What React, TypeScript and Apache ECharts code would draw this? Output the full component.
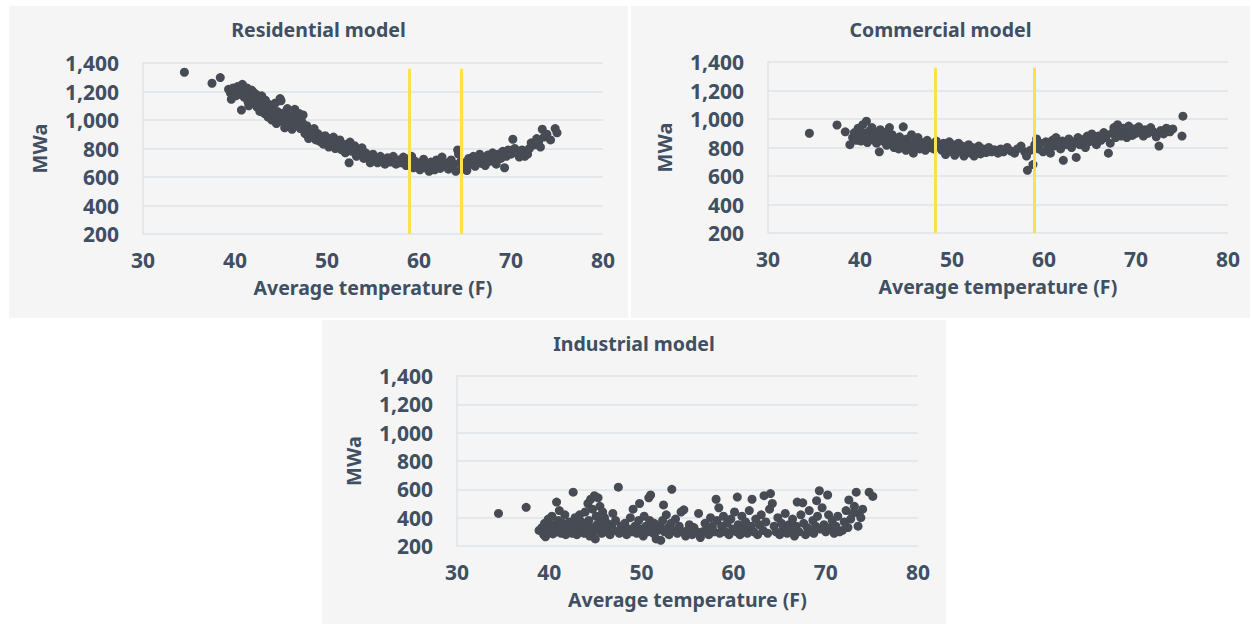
import React, { useEffect, useRef } from "react";
import * as echarts from "echarts";

const xTicks = [30, 40, 50, 60, 70, 80];
const yTicks = [200, 400, 600, 800, 1000, 1200, 1400];
const titles = ["Residential model", "Commercial model", "Industrial model"];
const xName = "Average temperature (F)";
const yName = "MWa";

const residentialMarkers = [58.9, 64.6];
const commercialMarkers = [48.2, 58.9];
const markerTop = 1360;

const residential: number[][] = [
  [34.5,1335],[37.5,1258],[38.4,1298],
  [39.3,1215],[39.5,1190],[39.6,1145],[39.8,1225],[40.0,1200],[40.1,1170],[40.3,1235],[40.4,1205],[40.6,1180],[40.7,1070],[40.8,1250],[40.9,1215],[41.0,1160],[41.1,1195],[41.3,1225],[41.4,1130],[41.5,1100],[41.6,1175],
  [41.8,1210],[41.9,1150],[42.0,1195],[42.1,1120],[42.3,1180],[42.4,1090],[42.5,1155],[42.7,1060],[42.8,1130],[42.9,1170],[43.0,1105],[43.2,1045],[43.3,1140],[43.4,1080],[43.6,1020],[43.7,1110],[43.8,1060],[44.0,1000],[44.1,1085],[44.2,1040],[44.4,1120],[44.5,975],[44.6,1060],[44.8,1020],[44.9,1150],[45.0,1135],[45.1,990],[45.3,1050],[45.4,945],[45.5,1010],[45.7,1080],[45.8,965],[46.0,1030],[46.1,990],[46.2,935],[46.4,1000],[46.5,1075],[46.6,960],[46.8,1025],[47.0,1045],[47.1,940],[47.3,985],[47.4,1035],[47.6,905],[47.8,960],[48.0,870],
  [48.2,925],[48.4,890],[48.6,940],[48.8,860],[49.0,905],[49.2,850],[49.4,880],[49.6,830],[49.8,890],[50.0,855],[50.2,810],[50.3,870],[50.5,835],[50.7,880],[50.9,800],[51.0,845],[51.2,820],[51.4,860],[51.6,790],[51.8,830],[52.0,770],[52.2,810],[52.4,700],[52.5,845],[52.7,780],
  [53.0,820],[53.2,745],[53.4,790],[53.6,760],[53.8,805],[54.0,730],[54.2,770],[54.5,745],[54.7,700],[55.0,760],[55.2,720],[55.5,700],[55.8,745],[56.0,715],[56.3,690],[56.6,735],[56.9,705],[57.2,745],[57.5,690],[57.8,720],
  [58.0,700],[58.3,740],[58.6,680],[58.8,715],[59.0,690],[59.2,745],[59.4,665],[59.6,710],[59.9,680],[60.1,650],[60.3,700],[60.5,725],[60.7,665],[60.9,690],[61.1,640],[61.3,705],[61.5,675],[61.7,650],[61.9,720],[62.1,690],[62.3,660],[62.5,740],[62.7,680],[62.9,700],
  [63.2,655],[63.5,720],[63.8,690],[64.0,640],[64.2,790],[64.3,760],[64.5,705],[64.7,665],[65.0,700],[65.2,645],[65.4,730],[65.6,690],[65.9,745],[66.1,675],[66.3,710],
  [66.6,760],[66.8,695],[67.0,730],[67.2,680],[67.5,755],[67.7,710],[68.0,770],[68.2,735],[68.4,690],[68.6,760],[68.9,730],[69.1,780],[69.3,665],[69.5,745],[69.7,790],[70.0,760],[70.2,865],[70.4,800],[70.6,770],[70.9,740],
  [71.2,790],[71.5,745],[71.8,760],[72.0,800],[72.2,840],[72.5,825],[72.8,870],[73.0,845],[73.2,810],[73.4,935],[73.6,880],[73.9,900],[74.3,860],[74.8,940],[75.0,910]
];

const commercial: number[][] = [
  [34.5,900],[37.5,958],[38.4,910],[38.9,820],
  [39.2,870],[39.4,905],[39.6,850],[39.8,935],[40.0,880],[40.1,845],[40.3,960],[40.4,900],[40.6,870],[40.7,985],[40.8,835],[41.0,915],[41.1,880],[41.3,940],[41.4,855],[41.6,900],[41.8,830],[41.9,870],[42.1,770],[42.2,925],[42.4,880],[42.5,845],[42.7,905],[42.9,815],[43.0,870],[43.2,940],[43.3,835],[43.5,890],[43.7,800],[43.8,860],[44.0,830],[44.2,790],[44.3,875],[44.5,845],[44.7,945],[44.8,810],[45.0,780],[45.1,860],[45.3,830],[45.5,800],[45.6,890],[45.8,760],[46.0,840],[46.1,810],[46.3,870],[46.5,790],[46.7,835],[46.9,815],[47.1,780],[47.3,850],[47.5,800],[47.8,825],[48.0,790],[48.3,845],
  [48.6,810],[48.9,780],[49.1,830],[49.3,750],[49.5,805],[49.7,840],[49.9,775],[50.1,820],[50.3,745],[50.5,795],[50.7,830],[50.9,770],[51.1,810],[51.3,740],[51.5,790],[51.8,820],[52.0,760],[52.2,800],[52.4,740],[52.7,780],[52.9,810],[53.1,755],[53.4,790],[53.7,765],[54.0,800],[54.3,770],[54.6,785],[55.0,760],[55.3,790],[55.6,770],[56.0,800],[56.4,775],[56.8,760],[57.1,790],[57.5,810],[57.9,770],[58.1,740],[58.2,640],[58.5,780],[58.8,680],
  [59.0,820],[59.2,860],[59.4,790],[59.6,830],[59.9,770],[60.2,840],[60.4,800],[60.7,760],[60.9,850],[61.1,810],[61.3,870],[61.5,830],[61.8,790],[62.0,845],[62.1,710],[62.4,820],[62.7,860],[63.0,800],[63.2,840],[63.5,730],[63.7,870],[63.9,820],[64.2,855],[64.5,800],[64.7,880],[64.9,840],[65.2,895],[65.4,860],[65.7,820],[65.9,880],[66.2,850],[66.5,905],[66.7,870],
  [67.0,760],[67.2,830],[67.4,900],[67.6,940],[67.8,870],[68.0,960],[68.2,915],[68.4,880],[68.6,935],[68.8,900],[69.0,870],[69.2,950],[69.4,910],[69.6,885],[69.8,930],[70.0,900],[70.3,945],[70.5,915],[70.8,880],[71.0,925],[71.3,900],[71.6,940],[71.9,910],[72.2,875],[72.5,810],[72.7,920],[73.0,895],[73.3,935],[73.7,910],[74.0,930],[75.0,880],[75.1,1020]
];

const industrial: number[][] = [
  [34.5,430],[37.5,473],
  [38.9,310],[39.2,330],[39.4,280],[39.5,360],[39.6,265],[39.8,300],[39.9,390],[40.0,340],[40.2,310],[40.3,410],[40.4,285],[40.5,350],[40.6,320],[40.8,510],[40.9,300],[41.0,380],[41.1,450],[41.2,330],[41.3,290],[41.5,360],[41.6,310],[41.7,420],[41.8,280],[41.9,340],[42.0,300],
  [42.2,370],[42.3,320],[42.5,290],[42.6,580],[42.7,350],[42.8,400],[42.9,310],[43.0,280],[43.1,340],[43.3,420],[43.4,300],[43.5,370],[43.6,330],[43.8,290],[43.9,440],[44.0,350],[44.1,310],[44.2,500],[44.3,380],[44.4,270],[44.5,530],[44.6,330],[44.7,460],[44.8,300],[44.9,555],[45.0,250],[45.1,410],[45.2,350],[45.3,540],[45.4,310],[45.5,480],[45.6,370],[45.7,290],[45.8,440],[45.9,330],[46.0,400],[46.2,300],[46.3,360],[46.5,320],[46.6,280],[46.8,350],[46.9,430],[47.0,310],[47.2,380],[47.5,615],[47.6,290],[47.8,340],[48.0,300],
  [48.2,360],[48.4,280],[48.6,320],[48.8,400],[49.0,300],[49.1,460],[49.3,340],[49.5,290],[49.7,380],[49.8,500],[50.0,320],[50.2,270],[50.3,410],[50.5,340],[50.7,300],[50.8,540],[50.9,380],[51.0,560],[51.1,330],[51.3,290],[51.4,360],[51.6,250],[51.8,310],[52.0,340],[52.1,240],[52.3,380],[52.4,490],[52.5,300],[52.7,420],[52.9,330],[53.0,280],[53.2,360],[53.3,600],[53.5,310],[53.7,390],[53.9,290],[54.1,340],[54.3,440],[54.5,300],
  [54.6,455],[54.8,270],[55.0,310],[55.2,350],[55.5,280],[55.7,330],[56.0,300],[56.2,430],[56.4,260],[56.6,300],[56.9,360],[57.1,320],[57.3,280],[57.5,400],[57.7,340],[57.9,300],[58.1,530],[58.2,380],[58.4,470],[58.5,290],[58.7,340],[58.9,410],[59.1,300],[59.3,360],[59.5,280],[59.7,390],[59.9,320],
  [60.1,440],[60.3,300],[60.4,545],[60.5,350],[60.7,280],[60.9,410],[61.1,330],[61.3,370],[61.5,290],[61.7,450],[61.9,340],[62.0,530],[62.2,300],[62.4,390],[62.6,280],[62.8,350],[63.0,420],[63.2,310],[63.3,555],[63.5,370],[63.7,290],[63.9,460],[64.0,570],[64.2,500],[64.4,340],[64.6,300],[64.8,400],[65.0,280],[65.2,360],[65.4,320],[65.6,430],[65.8,290],[66.0,350],
  [66.2,300],[66.4,390],[66.6,270],[66.8,340],[66.9,510],[67.1,300],[67.3,420],[67.5,505],[67.6,360],[67.8,280],[68.0,330],[68.2,450],[68.4,300],[68.6,380],[68.7,290],[68.9,340],[69.0,520],[69.1,410],[69.3,590],[69.4,320],[69.6,470],[69.8,350],[70.0,300],[70.2,560],[70.3,420],[70.5,330],[70.7,380],[70.9,290],
  [71.1,340],[71.3,410],[71.5,300],[71.8,310],[72.0,370],[72.2,450],[72.4,330],[72.5,525],[72.7,390],[72.9,430],[73.1,480],[73.3,580],[73.5,340],[73.6,430],[73.8,400],[74.0,460],[74.7,580],[75.1,550]
];

const TEXT = "#404f62";
const DOT = "#474b53";
const GRID = "#dde3ea";
const YELLOW = "#ffe04a";
const PANEL = "#f5f5f5";
const FONT = "'Noto Sans', Lato, sans-serif";

export default function App() {
  const ref = useRef<HTMLDivElement>(null);
  useEffect(() => {
    document.body.style.margin = "0";
    const chart = echarts.init(ref.current!, null, { renderer: "svg" });
    const grids = [
      { left: 143, top: 63, width: 460, height: 171 },
      { left: 768, top: 62, width: 460, height: 171 },
      { left: 457, top: 376, width: 461, height: 170 },
    ];
    const panels = [
      { x: 9, y: 6, w: 619, h: 312 },
      { x: 631, y: 6, w: 619, h: 312 },
      { x: 322, y: 320, w: 624, h: 304 },
    ];
    const titleY = [29, 29, 343];
    const datasets = [residential, commercial, industrial];
    const markers = [residentialMarkers, commercialMarkers, []];
    const xMin = xTicks[0], xMax = xTicks[xTicks.length - 1];
    const yMin = yTicks[0], yMax = yTicks[yTicks.length - 1];

    const option: any = {
      animation: false,
      backgroundColor: "#ffffff",
      graphic: [
        ...panels.map((p) => ({
          type: "rect",
          z: -10,
          silent: true,
          shape: { x: p.x, y: p.y, width: p.w, height: p.h },
          style: { fill: PANEL },
        })),
        ...panels.map((p, i) => ({
          type: "text",
          x: p.x + p.w / 2,
          y: titleY[i],
          style: {
            text: titles[i],
            fill: TEXT,
            font: `bold 19.5px ${FONT}`,
            align: "center",
            verticalAlign: "middle",
          },
        })),
      ],
      grid: grids.map((g) => ({ ...g, containLabel: false })),
      xAxis: grids.map((_, i) => ({
        type: "value",
        gridIndex: i,
        min: xMin,
        max: xMax,
        interval: 10,
        name: xName,
        nameLocation: "middle",
        nameGap: 43,
        nameTextStyle: { color: TEXT, fontFamily: FONT, fontWeight: "bold", fontSize: 19.5 },
        axisLine: { show: false },
        axisTick: { show: false },
        splitLine: { show: false },
        axisLabel: { color: TEXT, fontFamily: FONT, fontWeight: "bold", fontSize: 21, margin: 15 },
      })),
      yAxis: grids.map((_, i) => ({
        type: "value",
        gridIndex: i,
        min: yMin,
        max: yMax,
        interval: 200,
        name: yName,
        nameLocation: "middle",
        nameGap: 94,
        nameRotate: 90,
        nameTextStyle: { color: TEXT, fontFamily: FONT, fontWeight: "bold", fontSize: 20 },
        axisLine: { show: true, lineStyle: { color: GRID, width: 1.5 } },
        axisTick: { show: false },
        splitLine: { show: true, lineStyle: { color: GRID, width: 1.5 } },
        axisLabel: {
          color: TEXT,
          fontFamily: FONT,
          fontWeight: "bold",
          fontSize: 21,
          margin: 24,
          formatter: (v: number) => v.toLocaleString("en-US"),
        },
      })),
      series: datasets.map((d, i) => ({
        type: "scatter",
        xAxisIndex: i,
        yAxisIndex: i,
        data: d,
        symbol: "circle",
        symbolSize: 9,
        itemStyle: { color: DOT, opacity: 1 },
        silent: true,
        markLine: markers[i].length
          ? {
              silent: true,
              symbol: ["none", "none"],
              label: { show: false },
              lineStyle: { color: YELLOW, width: 3, type: "solid" },
              data: markers[i].map((m) => [
                { coord: [m, yMin] },
                { coord: [m, markerTop] },
              ]),
            }
          : undefined,
      })),
    };
    chart.setOption(option);
    return () => chart.dispose();
  }, []);
  return (
    <div
      ref={ref}
      style={{ position: "absolute", left: 0, top: 0, width: 1252, height: 624 }}
    />
  );
}
